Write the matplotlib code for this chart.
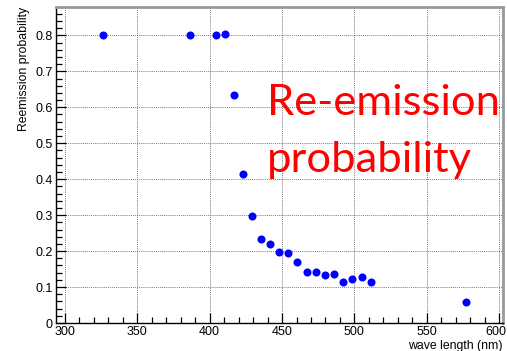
import numpy as np
import matplotlib
matplotlib.use("Agg")
import matplotlib.pyplot as plt
import matplotlib.transforms as mtransforms

# --- datos --- #

wave = [326.4, 386.3, 404.4, 410.4, 416.7, 422.7, 429.0, 435.6, 441.9, 448.1,
        454.4, 460.4, 467.1, 473.4, 479.6, 486.1, 492.4, 498.4, 505.1, 511.3,
        576.9]
prob = [0.800, 0.800, 0.800, 0.803, 0.634, 0.415, 0.299, 0.233, 0.220, 0.197,
        0.194, 0.171, 0.141, 0.141, 0.133, 0.136, 0.115, 0.122, 0.127, 0.115,
        0.058]

x_ticks = [300, 350, 400, 450, 500, 550, 600]
y_ticks = [0, 0.1, 0.2, 0.3, 0.4, 0.5, 0.6, 0.7, 0.8]
y_tick_labels = ["0", "0.1", "0.2", "0.3", "0.4", "0.5", "0.6", "0.7", "0.8"]

x_etiqueta = "wave length (nm)"
y_etiqueta = "Reemission probability"
nota = ["Re-emission", "probability"]

# -------------------------------- #

plt.rcParams['font.family'] = ['Liberation Sans', 'DejaVu Sans']

fig = plt.figure(figsize=(5.07, 3.51), dpi=100)
ax = fig.add_axes([56/507, 1-323/351, 447/507, 316/351])

ax.plot(wave, prob, "o", color="#0000ff", markersize=5.8, markeredgewidth=0, zorder=3)

ax.set_xticks(x_ticks)
ax.set_xticks(np.arange(300, 601, 10), minor=True)
ax.set_yticks(y_ticks)
ax.set_yticklabels(y_tick_labels)
ax.set_yticks(np.arange(0, 0.87, 0.02), minor=True)
ax.set_xlim(293.8, 602.7)
ax.set_ylim(0, 0.879)

ax.grid(True, which="major", linestyle=(0, (1, 1.3)), color="#555555", linewidth=0.6)
ax.tick_params(which="both", direction="in", top=False, right=False, labelsize=9, pad=2.5)
ax.tick_params(which="major", length=7, width=0.9)
ax.tick_params(which="minor", length=4, width=0.9)

# el ultimo numero del eje x queda pegado al borde
ult = ax.get_xticklabels()[-1]
ult.set_transform(ult.get_transform() + mtransforms.ScaledTranslation(-3/100, 0, fig.dpi_scale_trans))

for s in ["left", "bottom"]:
    ax.spines[s].set_color("black")
    ax.spines[s].set_linewidth(1.0)
for s in ["top", "right"]:
    ax.spines[s].set_color("#999999")
    ax.spines[s].set_linewidth(2.0)

ax.set_xlabel(x_etiqueta, fontsize=8.8, loc="right", labelpad=1)
ax.set_ylabel(y_etiqueta, fontsize=8.8, loc="top", labelpad=3.5)

ax.text(0.472, 0.658, nota[0], transform=ax.transAxes, color="red",
        fontsize=31.3, family="Lato", va="baseline", ha="left", zorder=4)
ax.text(0.472, 0.477, nota[1], transform=ax.transAxes, color="red",
        fontsize=31.3, family="Lato", va="baseline", ha="left", zorder=4)

fig.savefig("out.png", dpi=100)
